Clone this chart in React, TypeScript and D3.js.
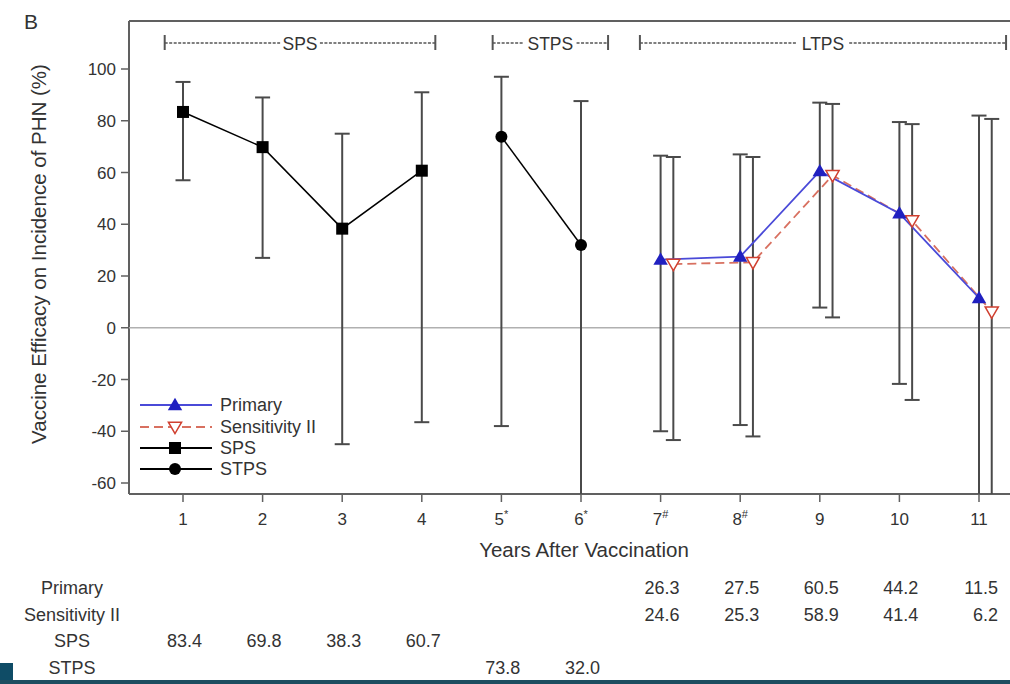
import React from "react";
import * as d3 from "d3";

const years = [1, 2, 3, 4, 5, 6, 7, 8, 9, 10, 11];
const yearLabels = ["1", "2", "3", "4", "5", "6", "7", "8", "9", "10", "11"];
const yearMarks = ["", "", "", "", "*", "*", "#", "#", "", "", ""];
const yTicks = [-60, -40, -20, 0, 20, 40, 60, 80, 100];

const spsYears = [1, 2, 3, 4];
const spsValues = [83.4, 69.8, 38.3, 60.7];
const spsLower = [57, 27, -45, -36.5];
const spsUpper = [95, 89, 75, 91];

const stpsYears = [5, 6];
const stpsValues = [73.8, 32.0];
const stpsLower = [-38, -100];
const stpsUpper = [97, 87.6];

const ltpsYears = [7, 8, 9, 10, 11];
const primaryValues = [26.3, 27.5, 60.5, 44.2, 11.5];
const primaryLower = [-40, -37.6, 7.8, -21.7, -100];
const primaryUpper = [66.5, 67, 87, 79.5, 82];
const sensValues = [24.6, 25.3, 58.9, 41.4, 6.2];
const sensLower = [-43.4, -42, 4, -27.9, -100];
const sensUpper = [66, 66, 86.5, 78.7, 80.7];
const sensOffset = 0.16;

const brackets = [
  { label: "SPS", start: 0.77, end: 4.17 },
  { label: "STPS", start: 4.89, end: 6.34 },
  { label: "LTPS", start: 6.74, end: 11.34 },
];

const tableRows = [
  { label: "Primary", years: ltpsYears, values: ["26.3", "27.5", "60.5", "44.2", "11.5"] },
  { label: "Sensitivity II", years: ltpsYears, values: ["24.6", "25.3", "58.9", "41.4", "6.2"] },
  { label: "SPS", years: spsYears, values: ["83.4", "69.8", "38.3", "60.7"] },
  { label: "STPS", years: stpsYears, values: ["73.8", "32.0"] },
];

const W = 1010;
const H = 684;
const plotLeft = 129;
const plotTop = 21;
const plotBottom = 494;
const plotRight = 1012;

const FONT = "'Liberation Sans', Arial, Helvetica, sans-serif";
const AXIS = "#606060";
const BAR = "#4a4a4a";
const TEXT = "#333";
const BLUE = "#2020c0";
const BLUE_LINE = "#4a4ad8";
const RED = "#d04030";
const RED_LINE = "#d87060";

export default function App() {
  const x = d3.scaleLinear().domain([1, 11]).range([183, 979]);
  const y = d3.scaleLinear().domain([-60, 100]).range([483, 69]);
  const line = d3
    .line<[number, number]>()
    .x((d) => x(d[0]))
    .y((d) => y(d[1]));

  const cap = 7.5;
  const errorBar = (xv: number, lo: number, hi: number, key: string) => {
    const cx = x(xv);
    const yl = Math.min(y(lo), plotBottom);
    const yh = y(hi);
    const showLo = y(lo) <= plotBottom;
    return (
      <g key={key} stroke={BAR} strokeWidth={2}>
        <line x1={cx} x2={cx} y1={yh} y2={yl} />
        <line x1={cx - cap} x2={cx + cap} y1={yh} y2={yh} />
        {showLo && <line x1={cx - cap} x2={cx + cap} y1={yl} y2={yl} />}
      </g>
    );
  };

  const triUp = d3.symbol().type(d3.symbolTriangle).size(90)() as string;
  const triDown = d3.symbol().type(d3.symbolTriangle).size(75)() as string;

  const legendItems = [
    { label: "Primary", kind: "primary" },
    { label: "Sensitivity II", kind: "sens" },
    { label: "SPS", kind: "sps" },
    { label: "STPS", kind: "stps" },
  ];
  const legendY = [405, 427, 448, 469];

  const marker = (kind: string, cx: number, cy: number, key: string) => {
    if (kind === "primary")
      return <path key={key} d={triUp} transform={`translate(${cx},${cy + 1})`} fill={BLUE} />;
    if (kind === "sens")
      return (
        <path key={key} d={triDown} transform={`translate(${cx},${cy - 1}) rotate(180)`} fill="white" stroke={RED} strokeWidth={1.5} />
      );
    if (kind === "sps") return <rect key={key} x={cx - 6} y={cy - 6} width={12} height={12} fill="#000" />;
    return <circle key={key} cx={cx} cy={cy} r={6} fill="#000" />;
  };

  return (
    <svg
      width={W}
      height={H}
      style={{ position: "absolute", left: 0, top: 0, background: "#fff", fontFamily: FONT }}
    >
      <defs>
        <clipPath id="plotclip">
          <rect x={plotLeft} y={plotTop} width={plotRight - plotLeft} height={plotBottom - plotTop} />
        </clipPath>
      </defs>
      <text x={24} y={29} fontSize={21} fill={TEXT}>B</text>

      {/* frame */}
      <line x1={plotLeft} x2={plotRight} y1={plotTop} y2={plotTop} stroke={AXIS} strokeWidth={2} />
      <line x1={plotLeft} x2={plotLeft} y1={plotTop} y2={plotBottom} stroke={AXIS} strokeWidth={2} />
      <line x1={plotLeft} x2={plotRight} y1={plotBottom} y2={plotBottom} stroke={AXIS} strokeWidth={2} />

      {/* zero line */}
      <line x1={plotLeft} x2={plotRight} y1={y(0)} y2={y(0)} stroke="#b0b0b0" strokeWidth={1.5} />

      {/* y ticks */}
      {yTicks.map((t) => (
        <g key={t}>
          <line x1={plotLeft - 8} x2={plotLeft} y1={y(t)} y2={y(t)} stroke={AXIS} strokeWidth={1.5} />
          <text x={plotLeft - 13} y={y(t)} dy="0.36em" textAnchor="end" fontSize={17} fill={TEXT}>
            {t}
          </text>
        </g>
      ))}
      <text
        transform={`translate(46,254) rotate(-90)`}
        textAnchor="middle"
        fontSize={20.5}
        fill={TEXT}
      >
        Vaccine Efficacy on Incidence of PHN (%)
      </text>

      {/* x ticks */}
      {years.map((yr, i) => (
        <g key={yr}>
          <line x1={x(yr)} x2={x(yr)} y1={plotBottom} y2={plotBottom + 8} stroke={AXIS} strokeWidth={1.5} />
          <text x={x(yr)} y={525} textAnchor="middle" fontSize={17} fill={TEXT}>
            {yearLabels[i]}
            {yearMarks[i] && (
              <tspan fontSize={11} dy={-7}>
                {yearMarks[i]}
              </tspan>
            )}
          </text>
        </g>
      ))}
      <text x={584} y={557} textAnchor="middle" fontSize={20.5} fill={TEXT}>
        Years After Vaccination
      </text>

      {/* brackets */}
      {brackets.map((b) => {
        const x1 = x(b.start);
        const x2 = x(b.end);
        const mid = (x1 + x2) / 2;
        const half = b.label.length * 6.3 + 1;
        return (
          <g key={b.label} stroke="#555">
            <line x1={x1} x2={x1} y1={35} y2={50} strokeWidth={2} />
            <line x1={x2} x2={x2} y1={35} y2={50} strokeWidth={2} />
            <line x1={x1} x2={mid - half} y1={43} y2={43} strokeWidth={1.3} strokeDasharray="3,1.5" />
            <line x1={mid + half} x2={x2} y1={43} y2={43} strokeWidth={1.3} strokeDasharray="3,1.5" />
            <text x={mid} y={49.5} textAnchor="middle" fontSize={17.5} fill={TEXT} stroke="none">
              {b.label}
            </text>
          </g>
        );
      })}

      <g clipPath="url(#plotclip)">
        {/* error bars */}
        {spsYears.map((yr, i) => errorBar(yr, spsLower[i], spsUpper[i], `sps${i}`))}
        {stpsYears.map((yr, i) => errorBar(yr, stpsLower[i], stpsUpper[i], `stps${i}`))}
        {ltpsYears.map((yr, i) => errorBar(yr, primaryLower[i], primaryUpper[i], `pr${i}`))}
        {ltpsYears.map((yr, i) => errorBar(yr + sensOffset, sensLower[i], sensUpper[i], `se${i}`))}

        {/* lines */}
        <path d={line(spsYears.map((yr, i) => [yr, spsValues[i]]))!} fill="none" stroke="#000" strokeWidth={1.5} />
        <path d={line(stpsYears.map((yr, i) => [yr, stpsValues[i]]))!} fill="none" stroke="#000" strokeWidth={1.5} />
        <path
          d={line(ltpsYears.map((yr, i) => [yr + sensOffset, sensValues[i]]))!}
          fill="none"
          stroke={RED_LINE}
          strokeWidth={1.8}
          strokeDasharray="9,5"
        />
        <path d={line(ltpsYears.map((yr, i) => [yr, primaryValues[i]]))!} fill="none" stroke={BLUE_LINE} strokeWidth={1.8} />

        {/* markers */}
        {spsYears.map((yr, i) => marker("sps", x(yr), y(spsValues[i]), `ms${i}`))}
        {stpsYears.map((yr, i) => marker("stps", x(yr), y(stpsValues[i]), `mt${i}`))}
        {ltpsYears.map((yr, i) => marker("sens", x(yr + sensOffset), y(sensValues[i]), `mse${i}`))}
        {ltpsYears.map((yr, i) => marker("primary", x(yr), y(primaryValues[i]), `mp${i}`))}
      </g>

      {/* legend */}
      {legendItems.map((it, i) => {
        const ly = legendY[i];
        const isSens = it.kind === "sens";
        const stroke = it.kind === "primary" ? BLUE_LINE : isSens ? RED_LINE : "#000";
        return (
          <g key={it.label}>
            <line
              x1={140}
              x2={212}
              y1={ly}
              y2={ly}
              stroke={stroke}
              strokeWidth={1.8}
              strokeDasharray={isSens ? "9,5" : undefined}
            />
            {marker(it.kind, 175, ly, `lg${i}`)}
            <text x={220} y={ly} dy="0.36em" fontSize={18} fill={TEXT}>
              {it.label}
            </text>
          </g>
        );
      })}

      {/* table */}
      {tableRows.map((row, r) => {
        const ty = 594 + r * 26.5;
        return (
          <g key={row.label}>
            <text x={72} y={ty} textAnchor="middle" fontSize={18} fill={TEXT}>
              {row.label}
            </text>
            {row.years.map((yr, j) => (
              <text key={yr} x={x(yr) + 19} y={ty} textAnchor="end" fontSize={18} fill={TEXT}>
                {row.values[j]}
              </text>
            ))}
          </g>
        );
      })}

      {/* bottom decoration */}
      <rect x={0} y={663} width={13} height={21} fill="#0f4c66" />
      <rect x={0} y={680} width={W} height={4} fill="#1d4e60" />
    </svg>
  );
}
